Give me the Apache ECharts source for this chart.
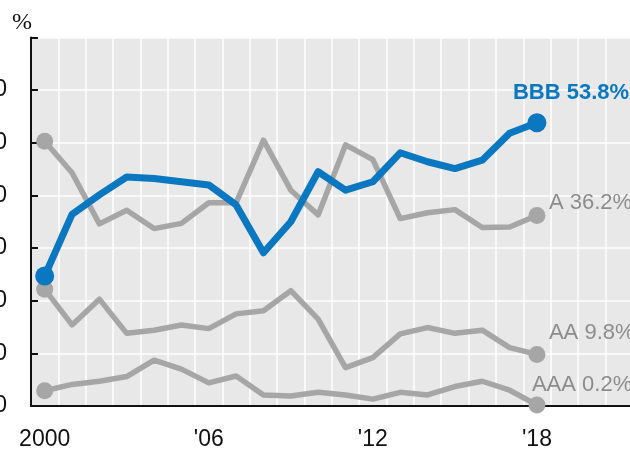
<!DOCTYPE html>
<html>
<head>
<meta charset="utf-8">
<script src="https://cdn.jsdelivr.net/npm/echarts@6/dist/echarts.min.js"></script>
<style>
html,body{margin:0;padding:0;background:#fff;}
#c{width:630px;height:452px;}
</style>
</head>
<body>
<div id="c"></div>
<script>
const years = [2000,2001,2002,2003,2004,2005,2006,2007,2008,2009,2010,2011,2012,2013,2014,2015,2016,2017,2018,2019,2020,2021,2022];
const tickYears = [2000, 2006, 2012, 2018];
const tickLabels = ['2000', "'06", "'12", "'18"];
const yTicks = [0, 10, 20, 30, 40, 50, 60];

const seriesNames = ['BBB', 'A', 'AA', 'AAA'];
const bbb = [24.7,36.4,40.1,43.5,43.2,42.6,42.0,38.2,29.1,35.0,44.5,41.0,42.6,48.1,46.4,45.1,46.7,51.8,53.8];
const aRated = [50.3,44.3,34.6,37.2,33.7,34.7,38.6,38.6,50.5,41.0,36.3,49.6,46.8,35.6,36.7,37.3,33.9,34.0,36.2];
const aa = [22.2,15.4,20.3,13.8,14.4,15.4,14.7,17.5,18.1,21.9,16.5,7.3,9.2,13.7,14.9,13.8,14.4,11.1,9.8];
const aaa = [2.9,4.1,4.7,5.6,8.7,7.0,4.4,5.7,2.1,1.9,2.6,2.1,1.3,2.6,2.1,3.7,4.7,3.0,0.2];

const FONT = "'Liberation Sans Narrow','Arial Narrow','Liberation Sans',Arial,sans-serif";
const BLUE = '#0a77c1';
const GREY = '#a6a6a6';
const GREY_TEXT = '#8c8c8c';

const chart = echarts.init(document.getElementById('c'), null, {renderer: 'canvas'});

function mkSeries(name, data, color, textColor, width, dot, offset, bold, z) {
  return {
    name: name,
    type: 'line',
    data: data,
    z: z,
    symbol: 'circle',
    symbolSize: function (v, p) {
      return (p.dataIndex === 0 || p.dataIndex === data.length - 1) ? dot : 0;
    },
    showAllSymbol: true,
    itemStyle: {color: color},
    lineStyle: {color: color, width: width, join: 'round', cap: 'round'},
    emphasis: {disabled: true},
    endLabel: {
      show: true,
      formatter: function (p) { return name + ' ' + p.value + '%'; },
      color: textColor,
      fontFamily: FONT,
      fontSize: 22,
      fontWeight: bold ? 'bold' : 'normal',
      distance: 0,
      offset: offset
    },
    animation: false
  };
}

chart.setOption({
  animation: false,
  grid: {
    left: 31, right: -30, top: 37.5, bottom: 46,
    show: true, backgroundColor: '#e8e8e8', borderWidth: 0,
    containLabel: false,
    outerBoundsMode: 'none'
  },
  graphic: [{
    type: 'text', left: 12, top: 11,
    style: {text: '%', font: "24px 'Liberation Serif','Times New Roman',serif", fill: '#111'}
  }],
  xAxis: {
    type: 'category',
    data: years,
    boundaryGap: true,
    axisLine: {show: true, lineStyle: {color: '#111', width: 2}},
    axisTick: {show: false},
    splitLine: {show: true, interval: 0, lineStyle: {color: '#ffffff', width: 1.5}},
    axisLabel: {
      interval: 0,
      margin: 22,
      color: '#111',
      fontFamily: FONT,
      fontSize: 23,
      formatter: function (v) {
        const i = tickYears.indexOf(Number(v));
        return i >= 0 ? tickLabels[i] : '';
      }
    }
  },
  yAxis: {
    type: 'value',
    min: 0, max: 70, interval: 10,
    axisLine: {show: true, lineStyle: {color: '#111', width: 2}},
    axisTick: {show: true, inside: true, length: 7, lineStyle: {color: '#111', width: 2}},
    splitLine: {show: true, lineStyle: {color: '#ffffff', width: 1.5}},
    axisLabel: {
      margin: 24,
      color: '#111',
      fontFamily: FONT,
      fontSize: 23,
      formatter: function (v) { return yTicks.indexOf(v) >= 0 ? String(v) : ''; }
    }
  },
  series: [
    mkSeries(seriesNames[3], aaa, GREY, GREY_TEXT, 5.5, 17, [-5, -20], false, 2),
    mkSeries(seriesNames[2], aa, GREY, GREY_TEXT, 5.5, 17, [12, -21], false, 2),
    mkSeries(seriesNames[1], aRated, GREY, GREY_TEXT, 5.5, 17, [12, -12], false, 2),
    mkSeries(seriesNames[0], bbb, BLUE, BLUE, 7, 19, [-24, -30], true, 3)
  ]
});
</script>
</body>
</html>
